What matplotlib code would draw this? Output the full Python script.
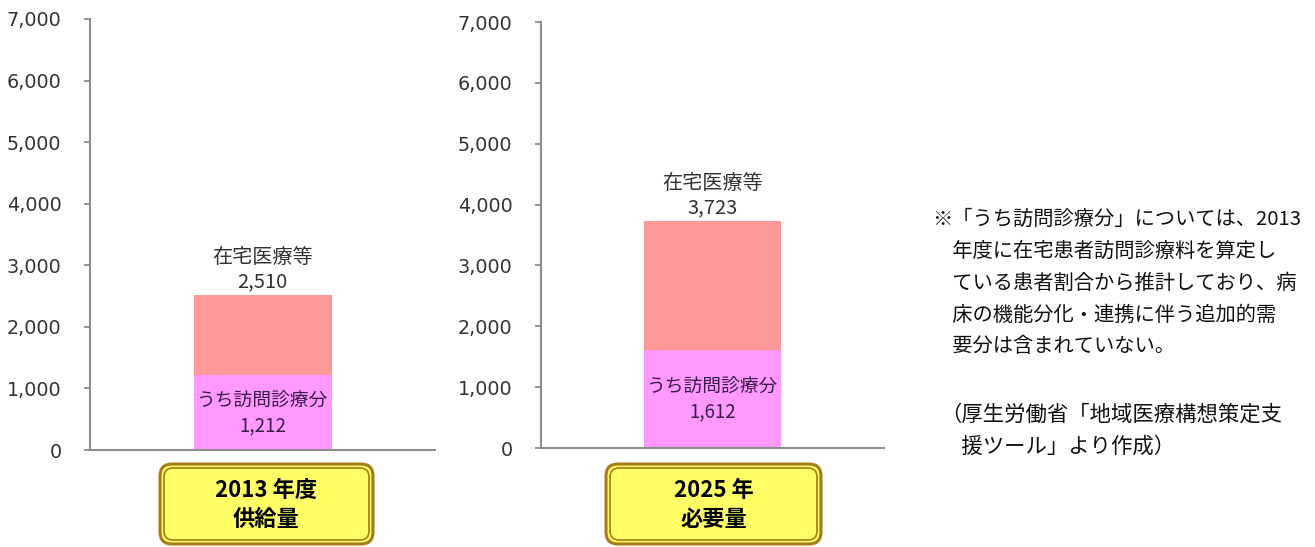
import matplotlib
matplotlib.use("Agg")
import matplotlib.pyplot as plt
from matplotlib.patches import FancyBboxPatch
from matplotlib.ticker import FuncFormatter

plt.rcParams['font.family'] = ['Noto Sans CJK JP', 'DejaVu Sans']

# data
years = ["2013 年度\n供給量", "2025 年\n必要量"]
total = [2510, 3723]          # 在宅医療等
visit = [1212, 1612]          # うち訪問診療分
total_label = "在宅医療等"
visit_label = "うち訪問診療分"
yticks = [0, 1000, 2000, 3000, 4000, 5000, 6000, 7000]

note_lines = [
    "※「うち訪問診療分」については、2013",
    "　年度に在宅患者訪問診療料を算定し",
    "　ている患者割合から推計しており、病",
    "　床の機能分化・連携に伴う追加的需",
    "　要分は含まれていない。",
]
source_lines = [
    "（厚生労働省「地域医療構想策定支",
    "　援ツール」より作成）",
]

W, H = 1315, 547
fig = plt.figure(figsize=(W / 100, H / 100), dpi=100)

# axes positions in pixels: (left, right, y of zero, y of 7000)
panels = [(90, 435, 450, 19), (541, 884, 448, 22)]
box_x = [(160, 373), (606, 821)]

c_top = "#ff9999"
c_bot = "#ff99ff"
spine_c = "#8c8c8c"

for i, (l, r, y0, y7) in enumerate(panels):
    ax = fig.add_axes([l / W, 1 - y0 / H, (r - l) / W, (y0 - y7) / H])
    ax.bar(0.5, visit[i], width=0.4, color=c_bot, zorder=2)
    ax.bar(0.5, total[i] - visit[i], bottom=visit[i], width=0.4, color=c_top, zorder=2)
    ax.set_xlim(0, 1)
    ax.set_ylim(0, 7000)
    ax.set_yticks(yticks)
    ax.yaxis.set_major_formatter(FuncFormatter(lambda v, p: f"{int(v):,}"))
    ax.tick_params(axis='y', length=4.5, width=1.3, color=spine_c, pad=16,
                   labelsize=13.8, labelcolor="#333333",
                   labelfontfamily="DejaVu Sans")
    ax.set_xticks([])
    for s in ["top", "right"]:
        ax.spines[s].set_visible(False)
    for s in ["left", "bottom"]:
        ax.spines[s].set_color(spine_c)
        ax.spines[s].set_linewidth(1.5)
    ax.annotate(f"{total_label}\n{total[i]:,}", (0.5, total[i]), xytext=(0, 2),
                textcoords="offset points", ha="center", va="bottom",
                fontsize=14.5, color="#333333", linespacing=1.25)
    ax.text(0.5, visit[i] / 2, f"{visit_label}\n{visit[i]:,}", ha="center",
            va="center", fontsize=13.5, color="#3a1c48", linespacing=1.3)

# overlay in pixel coordinates for callout boxes and note
ov = fig.add_axes([0, 0, 1, 1], zorder=5)
ov.set_xlim(0, W)
ov.set_ylim(H, 0)
ov.axis("off")
ov.patch.set_alpha(0)

for (x0, x1), lab in zip(box_x, years):
    outer = FancyBboxPatch((x0, 464), x1 - x0, 80, boxstyle="round,pad=0,rounding_size=12",
                           facecolor="#ffff66", edgecolor="#a67c1a", linewidth=2.2)
    inner = FancyBboxPatch((x0 + 4, 468), x1 - x0 - 8, 72, boxstyle="round,pad=0,rounding_size=9",
                           facecolor="none", edgecolor="#a67c1a", linewidth=1.2)
    ov.add_patch(outer)
    ov.add_patch(inner)
    ov.text((x0 + x1) / 2, 505, lab, ha="center", va="center", fontsize=16,
            fontweight="bold", color="black", linespacing=1.35)

y = 219
for line in note_lines:
    ov.text(932, y, line, ha="left", va="center", fontsize=14.6, color="#111111")
    y += 32
y += 36
for line in source_lines:
    ov.text(940, y, line, ha="left", va="center", fontsize=15.4, color="#111111")
    y += 32

fig.savefig("out.png", dpi=100)
